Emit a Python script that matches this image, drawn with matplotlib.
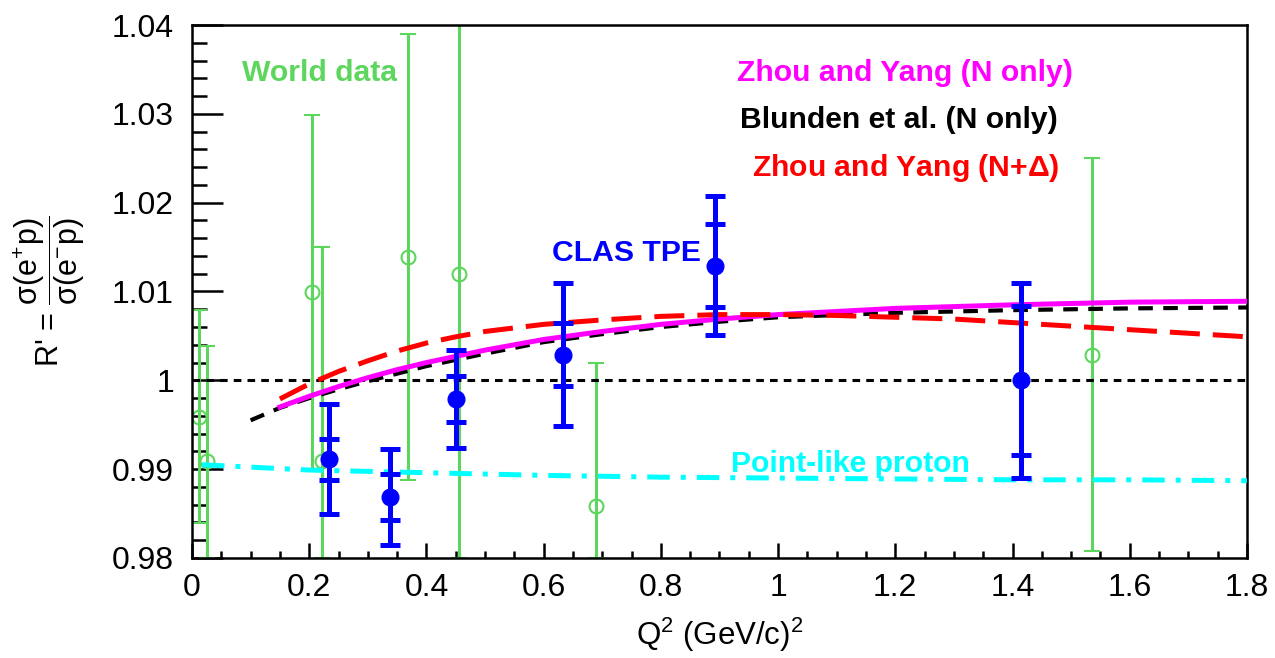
import numpy as np
import matplotlib
matplotlib.use("Agg")
import matplotlib.pyplot as plt

plt.rcParams['font.family'] = ['Liberation Sans', 'DejaVu Sans']
plt.rcParams['mathtext.fontset'] = 'custom'
plt.rcParams['mathtext.rm'] = 'Liberation Sans'
plt.rcParams['mathtext.it'] = 'Liberation Sans'
plt.rcParams['mathtext.default'] = 'regular'

# CLAS TPE points (Q2, R', stat error, total error)
clas_q2 = [0.234, 0.338, 0.451, 0.633, 0.893, 1.415]
clas_r = [0.9911, 0.9869, 0.9979, 1.0029, 1.0129, 1.0000]
clas_stat = [0.0023, 0.0026, 0.0026, 0.0035, 0.0047, 0.0084]
clas_tot = [0.0062, 0.0054, 0.0055, 0.0080, 0.0078, 0.0110]

# world data
world_q2 = [0.012, 0.026, 0.205, 0.221, 0.368, 0.456, 0.690, 1.536]
world_r = [0.9959, 0.9909, 1.0099, 0.9909, 1.0139, 1.0120, 0.9859, 1.0029]
world_err = [0.0120, 0.0130, 0.0200, 0.0241, 0.0251, 0.0320, 0.0160, 0.0221]

# theory curves
zy_n_q2 = [0.15, 0.2, 0.25, 0.3, 0.35, 0.4, 0.45, 0.5, 0.6, 0.7, 0.8, 0.9, 1.0, 1.2, 1.4, 1.6, 1.8]
zy_n_r = [0.9970, 0.9982, 0.9993, 1.0003, 1.0012, 1.0020, 1.0027, 1.0034, 1.0046, 1.0055,
          1.0063, 1.0069, 1.0074, 1.0081, 1.0085, 1.0088, 1.0089]

blunden_q2 = [0.1, 0.15, 0.2, 0.25, 0.3, 0.4, 0.5, 0.6, 0.7, 0.8, 0.9, 1.0, 1.2, 1.4, 1.6, 1.8]
blunden_r = [0.9955, 0.9969, 0.9980, 0.9990, 0.9999, 1.0016, 1.0030, 1.0043, 1.0052, 1.0060,
             1.0066, 1.0071, 1.0076, 1.0079, 1.0081, 1.0082]

zy_nd_q2 = [0.15, 0.2, 0.25, 0.3, 0.35, 0.4, 0.45, 0.5, 0.6, 0.7, 0.8, 0.9, 1.0, 1.1, 1.2,
            1.3, 1.4, 1.5, 1.6, 1.7, 1.8]
zy_nd_r = [0.9979, 0.9996, 1.0010, 1.0022, 1.0033, 1.0042, 1.0049, 1.0055, 1.0063, 1.0068,
           1.0072, 1.0074, 1.0074, 1.0073, 1.0071, 1.0069, 1.0065, 1.0061, 1.0057, 1.0053, 1.0049]

point_q2 = [0.017, 0.2, 0.4, 0.6, 0.8, 1.0, 1.2, 1.4, 1.6, 1.8]
point_r = [0.9905, 0.9899, 0.9896, 0.9893, 0.9891, 0.9890, 0.9889, 0.9888, 0.9888, 0.9887]

ymin, ymax = 0.98, 1.04

fig = plt.figure(figsize=(12.75, 6.58), dpi=100)
ax = fig.add_axes([0.1506, 0.152, 0.978 - 0.1506, 0.962 - 0.152])

green = '#5cd65c'
# world data, error bars stop at the frame like ROOT does
w_r = np.array(world_r)
w_e = np.array(world_err)
lo = np.minimum(w_e, w_r - ymin)
hi = np.minimum(w_e, ymax - w_r)
ax.errorbar(world_q2, world_r, yerr=[lo, hi], fmt='o', mfc='none', mec=green, mew=1.5,
            ms=10, color=green, elinewidth=2.2, capsize=6, capthick=2.2, zorder=2)

ax.axhline(1.0, color='black', lw=2.2, ls=(0, (2.5, 2)), zorder=3)
ax.plot(point_q2, point_r, color='cyan', lw=3.6, ls=(0, (4.5, 2.2, 1, 2.2)), zorder=3)
ax.plot(blunden_q2, blunden_r, color='black', lw=3.0, ls=(0, (3.5, 2.5)), zorder=3)
ax.plot(zy_n_q2, zy_n_r, color='#ff00ff', lw=3.6, zorder=4)
ax.plot(zy_nd_q2, zy_nd_r, color='red', lw=3.6, ls=(0, (6, 2.6)), zorder=4)

# CLAS: total error then stat error ticks
ax.errorbar(clas_q2, clas_r, yerr=clas_tot, fmt='o', color='#0000ff', ms=12,
            elinewidth=3.6, capsize=7, capthick=3.6, zorder=6)
ax.errorbar(clas_q2, clas_r, yerr=clas_stat, fmt='none', ecolor='#0000ff',
            elinewidth=3.6, capsize=7, capthick=3.6, zorder=6)

ax.set_xlim(0, 1.8)
ax.set_ylim(ymin, ymax)
ax.set_xticks(np.arange(0, 1.81, 0.2))
ax.set_xticklabels(['0', '0.2', '0.4', '0.6', '0.8', '1', '1.2', '1.4', '1.6', '1.8'])
ax.set_xticks(np.arange(0, 1.81, 0.05), minor=True)
ax.set_yticks([0.98, 0.99, 1.0, 1.01, 1.02, 1.03, 1.04])
ax.set_yticklabels(['0.98', '0.99', '1', '1.01', '1.02', '1.03', '1.04'])
ax.set_yticks(np.arange(0.98, 1.0401, 0.002), minor=True)

ax.tick_params(axis='both', which='both', direction='in', width=1.8, labelsize=23)
ax.tick_params(axis='x', which='major', length=11, pad=11)
ax.tick_params(axis='x', which='minor', length=5)
ax.tick_params(axis='y', which='major', length=22, pad=13)
ax.tick_params(axis='y', which='minor', length=11)
for s in ax.spines.values():
    s.set_linewidth(1.8)

ax.set_xlabel('Q$^{2}$ (GeV/c)$^{2}$', fontsize=22.5)
ax.xaxis.set_label_coords(0.5, -0.108)
ax.set_ylabel(r"R' = $\dfrac{\sigma(e^{+}p)}{\sigma(e^{-}p)}$", fontsize=22)
ax.yaxis.set_label_coords(-0.0995, 0.5)

# labels on the plot
fs = 21.7
ax.text(0.085, 1.0346, 'World data', color=green, fontsize=fs, fontweight='bold', va='center')
ax.text(0.93, 1.0346, 'Zhou and Yang (N only)', color='#ff00ff', fontsize=fs,
        fontweight='bold', va='center')
ax.text(0.935, 1.0293, 'Blunden et al. (N only)', color='black', fontsize=fs,
        fontweight='bold', va='center')
ax.text(0.956, 1.0239, 'Zhou and Yang (N+$\\Delta$)', color='red', fontsize=fs,
        fontweight='bold', va='center')
ax.text(0.615, 1.0143, 'CLAS TPE', color='#0000ff', fontsize=fs, fontweight='bold', va='center')
ax.text(0.92, 0.9906, 'Point-like proton', color='cyan', fontsize=fs, fontweight='bold',
        va='center')

plt.savefig('out.png', dpi=100)
